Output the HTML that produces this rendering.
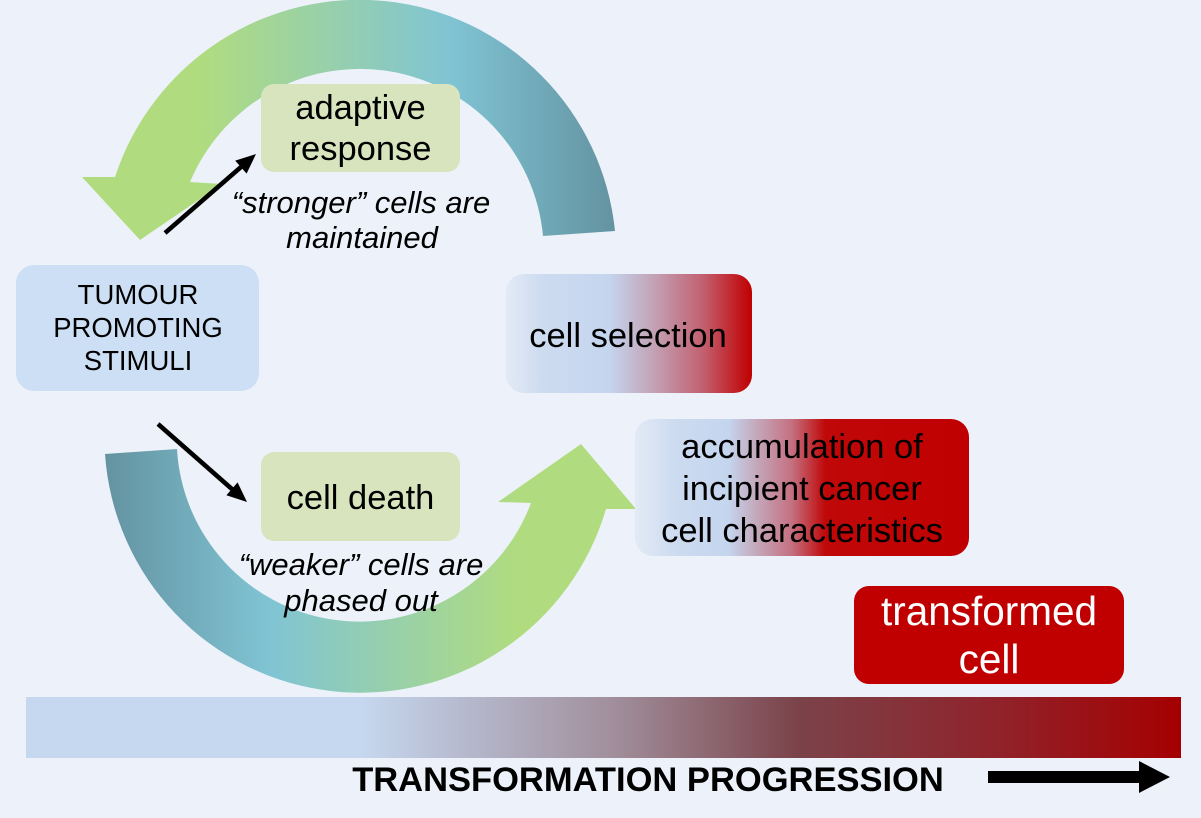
<!DOCTYPE html>
<html><head><meta charset="utf-8"><style>
html,body{margin:0;padding:0;background:#edf2fa;}
svg{display:block;}
text{font-family:"Liberation Sans",Arial,sans-serif;}
</style></head><body>
<svg width="1201" height="818" viewBox="0 0 1201 818" xmlns="http://www.w3.org/2000/svg">
<defs>
<linearGradient id="gTop" gradientUnits="userSpaceOnUse" x1="82" y1="0" x2="615" y2="0">
<stop offset="0" stop-color="#b0dc7f"/>
<stop offset="0.22" stop-color="#b0dc7f"/>
<stop offset="0.69" stop-color="#80c4d4"/>
<stop offset="1" stop-color="#6493a1"/>
</linearGradient>
<linearGradient id="gBot" gradientUnits="userSpaceOnUse" x1="105" y1="0" x2="636" y2="0">
<stop offset="0" stop-color="#6493a1"/>
<stop offset="0.31" stop-color="#80c4d4"/>
<stop offset="0.78" stop-color="#b0dc7f"/>
<stop offset="1" stop-color="#b0dc7f"/>
</linearGradient>
<linearGradient id="gSel" x1="0" y1="0" x2="1" y2="0">
<stop offset="0" stop-color="#e3eaf6"/>
<stop offset="0.15" stop-color="#cddbf0"/>
<stop offset="0.42" stop-color="#c4d5ee"/>
<stop offset="0.6" stop-color="#c3a2b6"/>
<stop offset="0.8" stop-color="#c26070"/>
<stop offset="1" stop-color="#c00000"/>
</linearGradient>
<linearGradient id="gAcc" x1="0" y1="0" x2="1" y2="0">
<stop offset="0" stop-color="#e3eaf6"/>
<stop offset="0.12" stop-color="#cddbf0"/>
<stop offset="0.28" stop-color="#c4d5ee"/>
<stop offset="0.36" stop-color="#c4aabd"/>
<stop offset="0.47" stop-color="#c47080"/>
<stop offset="0.57" stop-color="#c00808"/>
<stop offset="1" stop-color="#c00000"/>
</linearGradient>
<linearGradient id="gBar" x1="0" y1="0" x2="1" y2="0">
<stop offset="0" stop-color="#c5d8ef"/>
<stop offset="0.289" stop-color="#c5d8ef"/>
<stop offset="0.389" stop-color="#b4b6ca"/>
<stop offset="0.508" stop-color="#a18f9c"/>
<stop offset="0.667" stop-color="#7b434a"/>
<stop offset="0.843" stop-color="#90222a"/>
<stop offset="1" stop-color="#a50000"/>
</linearGradient>
</defs>

<rect x="0" y="0" width="1201" height="818" fill="#edf2fa"/>

<!-- top circular arrow -->
<path d="M615,231 A257,257 0 0 0 115,177 L82,177 L140,240 L222,184 L190,182 A184,184 0 0 1 543,236 Z" fill="url(#gTop)"/>
<!-- bottom circular arrow -->
<path d="M105,454 A256,256 0 0 0 606,509 L636,509 L581,444 L498,502 L531,503 A183,183 0 0 1 177,449 Z" fill="url(#gBot)"/>

<!-- black arrows -->
<line x1="165" y1="233" x2="241" y2="167" stroke="#000" stroke-width="4.5"/>
<polygon points="256,154 246.6,173.6 235.2,160.6" fill="#000"/>
<line x1="158" y1="424" x2="233" y2="490" stroke="#000" stroke-width="4.5"/>
<polygon points="247,502 226.4,495.2 237.6,482.4" fill="#000"/>

<!-- boxes -->
<rect x="16" y="265" width="243" height="126" rx="18" fill="#cddff4"/>
<text x="138" y="304" font-size="27.5" text-anchor="middle" fill="#000">TUMOUR</text>
<text x="138" y="337" font-size="27.5" text-anchor="middle" fill="#000">PROMOTING</text>
<text x="138" y="370" font-size="27.5" text-anchor="middle" fill="#000">STIMULI</text>

<rect x="261" y="84" width="199" height="88" rx="13" fill="#d7e4bd"/>
<text x="360.5" y="119" font-size="34.5" text-anchor="middle" fill="#000">adaptive</text>
<text x="360.5" y="160" font-size="34.5" text-anchor="middle" fill="#000">response</text>

<text x="361" y="213" font-size="31" font-style="italic" text-anchor="middle" fill="#000">“stronger” cells are</text>
<text x="362" y="248" font-size="31" font-style="italic" text-anchor="middle" fill="#000">maintained</text>

<rect x="261" y="452" width="199" height="89" rx="13" fill="#d7e4bd"/>
<text x="360.5" y="509" font-size="34.5" text-anchor="middle" fill="#000">cell death</text>

<text x="361" y="575" font-size="31" font-style="italic" text-anchor="middle" fill="#000">“weaker” cells are</text>
<text x="361" y="611" font-size="31" font-style="italic" text-anchor="middle" fill="#000">phased out</text>

<rect x="506" y="274" width="246" height="119" rx="18" fill="url(#gSel)"/>
<text x="628" y="347" font-size="34.5" text-anchor="middle" fill="#000">cell selection</text>

<rect x="635" y="419" width="334" height="137" rx="18" fill="url(#gAcc)"/>
<text x="802" y="458" font-size="34.5" text-anchor="middle" fill="#000">accumulation of</text>
<text x="802" y="500" font-size="34.5" text-anchor="middle" fill="#000">incipient cancer</text>
<text x="802" y="542" font-size="34.5" text-anchor="middle" fill="#000">cell characteristics</text>

<rect x="854" y="586" width="270" height="98" rx="15" fill="#c00000"/>
<text x="989" y="625" font-size="40.5" text-anchor="middle" fill="#ffffff">transformed</text>
<text x="989" y="673" font-size="40.5" text-anchor="middle" fill="#ffffff">cell</text>

<!-- progression bar -->
<rect x="26" y="697" width="1155" height="61" fill="url(#gBar)"/>
<text x="648" y="791" font-size="34.5" font-weight="bold" text-anchor="middle" fill="#000">TRANSFORMATION PROGRESSION</text>
<rect x="988" y="771" width="152" height="12" fill="#000"/>
<polygon points="1139,761 1170,777 1139,793" fill="#000"/>
</svg>
</body></html>
